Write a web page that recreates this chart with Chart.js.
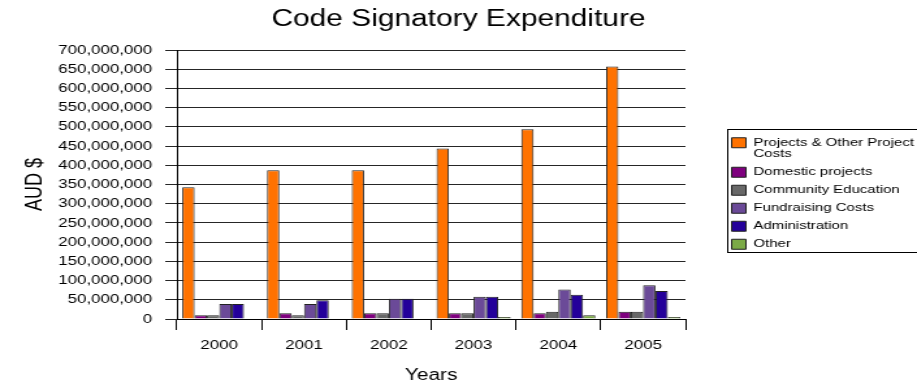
<!DOCTYPE html>
<html>
<head>
<meta charset="utf-8">
<title>Code Signatory Expenditure</title>
<script src="https://cdn.jsdelivr.net/npm/chart.js"></script>
<style>
    html, body { margin: 0; padding: 0; background: #fff; overflow: hidden; }
    /* the original picture is stretched sideways, so draw narrow and widen it */
    #wrap { width: 705px; height: 387px; transform: scaleX(1.3007); transform-origin: 0 0; }
</style>
</head>
<body>
<div id="wrap"><canvas id="chart"></canvas></div>
<script>
// Categories and series (AUD $)
const years = ['2000', '2001', '2002', '2003', '2004', '2005'];
const seriesNames = [
    ['Projects & Other Project', 'Costs'],
    'Domestic projects',
    'Community Education',
    'Fundraising Costs',
    'Administration',
    'Other'
];
const seriesColors = ['#FF7200', '#7E007E', '#686868', '#6B4A98', '#24009A', '#7BAA46'];

const projects    = [343000000, 387000000, 387000000, 444000000, 494000000, 657000000];
const domestic    = [10000000, 15000000, 15000000, 15000000, 15000000, 19000000];
const community   = [10000000, 10000000, 15000000, 15000000, 19000000, 19000000];
const fundraising = [39000000, 39000000, 53000000, 58000000, 77000000, 88000000];
const admin       = [39000000, 49000000, 53000000, 58000000, 63000000, 73000000];
const other       = [0, 0, 0, 5000000, 10000000, 5000000];

const yMax = 700000000;
const yStep = 50000000;

Chart.defaults.font.family = "'Liberation Sans', Arial, sans-serif";
Chart.defaults.color = '#000';

// Frame around the legend, open to the right like the original
const legendFrame = {
    id: 'legendFrame',
    afterDraw(chart) {
        const boxes = chart.legend && chart.legend.legendHitBoxes;
        if (!boxes || !boxes.length) return;
        const first = boxes[0];
        const last = boxes[boxes.length - 1];
        const ctx = chart.ctx;
        const x = Math.round(first.left - 4) + 0.5;
        const top = Math.round(first.top - 8) + 0.5;
        const bottom = Math.round(last.top + last.height + 2) + 0.5;
        ctx.save();
        ctx.strokeStyle = '#000';
        ctx.lineWidth = 1;
        ctx.strokeRect(x, top, chart.width, bottom - top);
        ctx.restore();
    }
};

const allSeries = [projects, domestic, community, fundraising, admin, other];
const datasets = allSeries.map((values, i) => ({
    label: seriesNames[i],
    data: values,
    backgroundColor: seriesColors[i],
    borderColor: '#222',
    borderWidth: 1,
    categoryPercentage: 0.874,
    barPercentage: 1.0
}));

new Chart(document.getElementById('chart'), {
    type: 'bar',
    data: { labels: years, datasets },
    options: {
        responsive: true,
        maintainAspectRatio: false,
        animation: false,
        layout: { padding: 0 },
        scales: {
            y: {
                min: 0,
                max: yMax,
                position: 'left',
                afterFit: s => { s.width = 136; },
                ticks: {
                    stepSize: yStep,
                    padding: 10,
                    font: { size: 13 },
                    color: '#000',
                    callback: v => v.toLocaleString('en-US')
                },
                grid: { color: '#262626', lineWidth: 1, tickLength: 9 },
                border: { display: true, color: '#000', width: 1 },
                title: {
                    display: true,
                    text: 'AUD $',
                    font: { size: 18 },
                    color: '#000',
                    padding: { top: 16, bottom: 4 }
                }
            },
            gap: {
                type: 'linear',
                position: 'right',
                display: true,
                grid: { display: false },
                border: { display: false },
                ticks: { display: false },
                afterFit: s => { s.width = 29; }
            },
            x: {
                afterFit: s => { s.height = 68; },
                ticks: { padding: 8, font: { size: 13 }, color: '#000' },
                grid: { drawOnChartArea: false, drawTicks: true, tickLength: 11, color: '#000' },
                border: { display: true, color: '#000', width: 1 },
                title: {
                    display: true,
                    text: 'Years',
                    font: { size: 16 },
                    color: '#000',
                    padding: { top: 12.8, bottom: 1.4 }
                }
            }
        },
        plugins: {
            title: {
                display: true,
                text: 'Code Signatory Expenditure',
                font: { size: 23, weight: 'normal' },
                color: '#000',
                padding: { top: 6.2, bottom: 16.2 }
            },
            legend: {
                position: 'right',
                maxWidth: 149,
                labels: {
                    boxWidth: 11,
                    boxHeight: 10,
                    padding: 6.5,
                    color: '#000',
                    font: { size: 11.5, lineHeight: 1.0 }
                }
            },
            tooltip: { enabled: false }
        }
    },
    plugins: [legendFrame]
});
</script>
</body>
</html>
